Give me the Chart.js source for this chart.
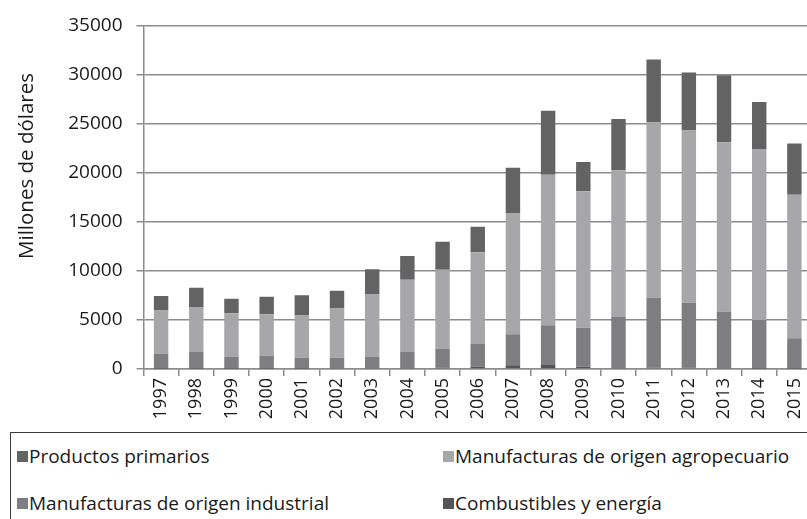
<!DOCTYPE html>
<html>
<head>
<meta charset="utf-8">
<script src="https://cdn.jsdelivr.net/npm/chart.js@4/dist/chart.umd.min.js"></script>
<style>
html,body{margin:0;padding:0;width:807px;height:519px;overflow:hidden;background:#fff;}
#wrap{position:absolute;left:0;top:0;width:818px;height:432px;}
#legend{position:absolute;left:10px;top:432px;width:820px;height:100px;border:1px solid #3a3a3a;box-sizing:border-box;font-family:"Open Sans",sans-serif;font-size:19px;color:#1a1a1a;}
.item{position:absolute;white-space:nowrap;line-height:20px;}
.sw{display:inline-block;width:11px;height:11px;margin-right:1px;vertical-align:1px;}
</style>
</head>
<body>
<div id="wrap"><canvas id="c"></canvas></div>
<div id="legend"></div>
<script>
const years = ["1997","1998","1999","2000","2001","2002","2003","2004","2005","2006","2007","2008","2009","2010","2011","2012","2013","2014","2015"];
const combustibles = [30,30,30,30,30,40,50,50,150,230,370,400,230,50,130,150,50,30,30];
const moi = [1550,1760,1220,1320,1120,1110,1200,1670,1940,2310,3180,4060,3980,5310,7120,6590,5780,4960,3110];
const moa = [4430,4530,4430,4230,4290,5000,6400,7380,8010,9360,12350,15330,13900,14880,17850,17550,17270,17410,14610];
const primarios = [1420,1950,1480,1780,2060,1820,2500,2400,2850,2600,4600,6520,2970,5220,6430,5900,6820,4800,5220];
const seriesNames = ["Productos primarios","Manufacturas de origen agropecuario","Manufacturas de origen industrial","Combustibles y energía"];
const seriesColors = ["#636363","#a7a7a9","#7e7e80","#555555"];
const yTicks = [0,5000,10000,15000,20000,25000,30000,35000];
const yTitle = "Millones de dólares";

const datasets = [
  {label: seriesNames[3], data: combustibles, backgroundColor: seriesColors[3]},
  {label: seriesNames[2], data: moi, backgroundColor: seriesColors[2]},
  {label: seriesNames[1], data: moa, backgroundColor: seriesColors[1]},
  {label: seriesNames[0], data: primarios, backgroundColor: seriesColors[0]}
];
datasets.forEach(d => { d.categoryPercentage = 0.41; d.barPercentage = 1; d.borderWidth = 0; });

const yTitlePlugin = {
  id: 'yTitle',
  afterDraw(chart) {
    const ctx = chart.ctx;
    ctx.save();
    ctx.translate(27, 166);
    ctx.rotate(-Math.PI / 2);
    ctx.font = '20.5px "Open Sans"';
    ctx.fillStyle = '#1a1a1a';
    ctx.textAlign = 'center';
    ctx.textBaseline = 'middle';
    ctx.fillText(yTitle, 0, 0);
    ctx.restore();
  }
};

new Chart(document.getElementById('c'), {
  type: 'bar',
  data: {labels: years, datasets: datasets},
  plugins: [yTitlePlugin],
  options: {
    responsive: true,
    maintainAspectRatio: false,
    animation: false,
    layout: {padding: {top: 22, right: 0, left: 0, bottom: 0}},
    plugins: {legend: {display: false}, tooltip: {enabled: false}},
    scales: {
      x: {
        stacked: true,
        offset: true,
        grid: {display: true, drawOnChartArea: false, drawTicks: true, tickLength: 7, color: '#8c8c8c', lineWidth: 1.5, offset: true},
        border: {display: true, color: '#8c8c8c', width: 1.5},
        ticks: {color: '#1a1a1a', font: {family: 'Open Sans', size: 18}, minRotation: 90, maxRotation: 90, padding: 2, autoSkip: false},
        afterFit: s => { s.height = 63; }
      },
      y: {
        stacked: true,
        min: 0, max: 35000,
        afterBuildTicks: s => { s.ticks = yTicks.map(v => ({value: v})); },
        grid: {color: '#8c8c8c', lineWidth: 1.5, tickLength: 7, drawTicks: true},
        border: {display: true, color: '#8c8c8c', width: 1.5},
        ticks: {color: '#1a1a1a', font: {family: 'Open Sans', size: 19}, padding: 14, callback: v => String(v)},
        afterFit: s => { s.width = 143.5; }
      }
    }
  }
});

// HTML legend built from the series names/colours
const leg = document.getElementById('legend');
const pos = [[6,13],[432,13],[6,60],[432,60]];
seriesNames.forEach((n,i) => {
  const el = document.createElement('div');
  el.className = 'item';
  el.style.left = pos[i][0] + 'px';
  el.style.top = pos[i][1] + 'px';
  el.innerHTML = '<span class="sw" style="background:' + seriesColors[i] + '"></span>' + n;
  leg.appendChild(el);
});
</script>
</body>
</html>
